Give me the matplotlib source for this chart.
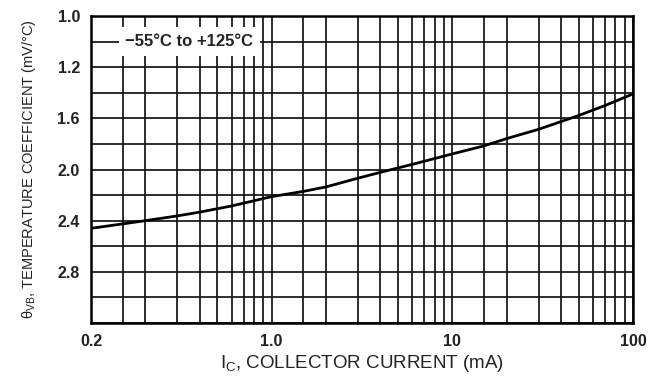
import numpy as np
import matplotlib
matplotlib.use('Agg')
import matplotlib.pyplot as plt

plt.rcParams['font.family'] = ['Liberation Sans', 'DejaVu Sans']
plt.rcParams['mathtext.fontset'] = 'custom'
plt.rcParams['mathtext.rm'] = 'Liberation Sans'
plt.rcParams['mathtext.it'] = 'Liberation Sans'

# collector current (mA) and temperature coefficient (mV/degC)
ic = [0.1, 0.2, 0.3, 0.4, 0.6, 1.0, 1.5, 2, 3, 4, 6, 10,
      15, 20, 30, 40, 50, 70, 100]
coef = [2.460, 2.400, 2.363, 2.333, 2.285, 2.212, 2.171, 2.136, 2.068,
        2.022, 1.960, 1.878, 1.815, 1.758, 1.686, 1.625, 1.578, 1.500,
        1.409]

x_ticks = [0.1, 1, 10, 100]
x_labels = ['0.2', '1.0', '10', '100']
y_ticks = [0.8, 1.2, 1.6, 2.0, 2.4, 2.8]
y_labels = ['1.0', '1.2', '1.6', '2.0', '2.4', '2.8']

fig = plt.figure(figsize=(6.6, 3.76), dpi=100)
ax = fig.add_axes([0.1379, 0.141, 0.8212, 0.8164])

ax.set_xscale('log')
ax.set_xlim(0.1, 100)
ax.set_ylim(3.2, 0.8)

# grid: 1, 1.5, 2..9 per decade, and every 0.2 vertically
xg = []
for d in [0.1, 1, 10]:
    xg += [d, 1.5 * d] + [k * d for k in range(2, 10)]
xg.append(100)
for v in xg:
    ax.axvline(v, color='#141414', lw=1.25, zorder=1)
for v in np.arange(0.8, 3.21, 0.2):
    ax.axhline(v, color='#141414', lw=1.25, zorder=1)

ax.plot(ic, coef, color='black', lw=2.0, zorder=3, solid_joinstyle='round')

ax.set_xticks(x_ticks)
ax.set_xticklabels(x_labels)
ax.set_xticks([], minor=True)
ax.set_yticks(y_ticks)
ax.set_yticklabels(y_labels)
ax.tick_params(length=0, labelsize=11.5, pad=8)
for t in ax.get_xticklabels() + ax.get_yticklabels():
    t.set_fontweight('bold')
    t.set_color('#222222')

for s in ax.spines.values():
    s.set_linewidth(1.8)
    s.set_zorder(4)

ax.text(0.35, 1.0, '\u221255\u00b0C to +125\u00b0C', fontsize=12,
        fontweight='bold', color='#222222', ha='center', va='center',
        zorder=5,
        bbox=dict(boxstyle='square,pad=0.4', fc='white', ec='none'))

ax.set_xlabel(r'$\mathrm{I_C}$, COLLECTOR CURRENT (mA)', fontsize=13.5,
              color='#222222', labelpad=3)
ax.set_ylabel(r'$\mathrm{\theta_{VB}}$, TEMPERATURE COEFFICIENT (mV/°C)',
              fontsize=10.5, color='#222222', labelpad=14)

fig.savefig('out.png', dpi=100)
